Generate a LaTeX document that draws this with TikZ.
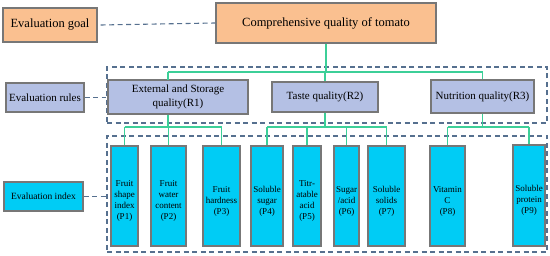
\documentclass[tikz,border=0pt]{standalone}
\usepackage{fontspec}
\setmainfont{Liberation Serif}
\newfontfamily\tnr{Liberation Serif}
\definecolor{goalfill}{HTML}{FAC090}
\definecolor{rulefill}{HTML}{B4C0E4}
\definecolor{idxfill}{HTML}{00CCF5}
\definecolor{boxline}{HTML}{777777}
\definecolor{conn}{HTML}{3CCF98}
\definecolor{dashc}{HTML}{56708F}
\begin{document}
\begin{tikzpicture}[x=1pt,y=-1pt,
  base/.style={draw=boxline,line width=1.2pt,inner sep=0pt,align=center},
  goalbox/.style={base,fill=goalfill,font=\tnr\fontsize{12.5}{14}\selectfont},
  rulebox/.style={base,fill=rulefill,font=\tnr\fontsize{11}{14}\selectfont},
  idxlabel/.style={base,fill=idxfill,font=\tnr\fontsize{9.5}{11}\selectfont},
  pbox/.style={base,fill=idxfill},
  frame/.style={draw=dashc,line width=1.1pt,dash pattern=on 5pt off 3.5pt,inner sep=0pt},
  dconn/.style={draw=dashc,line width=1.1pt,dash pattern=on 5pt off 3.5pt},
  gconn/.style={draw=conn,line width=1.1pt},
  plab/.style={label={[font=\tnr\fontsize{9}{11}\selectfont,align=center,yshift=-5pt]center:#1}}]
\useasboundingbox (0,0) rectangle (550,256);
% frames
\node[frame,minimum width=440pt,minimum height=56pt] (rframe) at (327,95) {};
\node[frame,minimum width=440pt,minimum height=116pt] (iframe) at (327,194) {};
% goal level
\node[goalbox,minimum width=94pt,minimum height=34pt] (goal) at (50,25) {Evaluation goal};
\node[goalbox,minimum width=220pt,minimum height=40pt] (comp) at (326,23) {Comprehensive quality of tomato};
% rules level
\node[rulebox,minimum width=78pt,minimum height=29pt] (rules) at (45,97.5) {Evaluation rules};
\node[rulebox,minimum width=140pt,minimum height=34pt] (r1) at (178,97) {External and Storage\\quality(R1)};
\node[rulebox,minimum width=106pt,minimum height=30pt] (r2) at (325,97) {Taste quality(R2)};
\node[rulebox,minimum width=103pt,minimum height=33pt] (r3) at (482.5,96.5) {Nutrition quality(R3)};
% index level
\node[idxlabel,minimum width=79pt,minimum height=29pt] (index) at (43.5,196.5) {Evaluation index};
\node[pbox,minimum width=27pt,minimum height=100pt,plab={Fruit\\shape\\index\\(P1)}] (p1) at (124.5,196) {};
\node[pbox,minimum width=35pt,minimum height=100pt,plab={Fruit\\water\\content\\(P2)}] (p2) at (168.5,196) {};
\node[pbox,minimum width=37pt,minimum height=100pt,plab={Fruit\\hardness\\(P3)}] (p3) at (221.5,196) {};
\node[pbox,minimum width=32pt,minimum height=100pt,plab={Soluble\\sugar\\(P4)}] (p4) at (267,196) {};
\node[pbox,minimum width=28pt,minimum height=100pt,plab={Titr-\\atable\\acid\\(P5)}] (p5) at (307,196) {};
\node[pbox,minimum width=25pt,minimum height=100pt,plab={Sugar\\/acid\\(P6)}] (p6) at (346.5,196) {};
\node[pbox,minimum width=37pt,minimum height=100pt,plab={Soluble\\solids\\(P7)}] (p7) at (386.5,196) {};
\node[pbox,minimum width=35pt,minimum height=100pt,plab={Vitamin\\C\\(P8)}] (p8) at (447.5,196) {};
\node[pbox,minimum width=32pt,minimum height=101pt,plab={Soluble\\protein\\(P9)}] (p9) at (529,195.5) {};
% dashed links
\draw[dconn] (goal.east) ++(3pt,0) -- (comp.west);
\draw[dconn] (rules.east) -- (rules.east -| rframe.west);
\draw[dconn] (index.east) -- (index.east -| iframe.west);
% green tree: goal -> rules
\coordinate (b1) at (326,72);
\coordinate (r1t) at (168,80);
\draw[gconn] (comp.south) -- (b1);
\draw[gconn] (r1t |- b1) -- (r3.north |- b1);
\draw[gconn] (r1t |- b1) -- (r1t);
\draw[gconn] (r2.north |- b1) -- (r2.north);
\draw[gconn] (r3.north |- b1) -- (r3.north);
% rules -> index
\coordinate (b2) at (0,127);
\draw[gconn] (r1.south -| r1t) -- (r1t |- b2);
\draw[gconn] (p1.north |- b2) -- (p3.north |- b2);
\foreach \p in {p1,p2,p3} \draw[gconn] (\p.north |- b2) -- (\p.north);
\draw[gconn] (r2.south) -- (r2.south |- b2);
\draw[gconn] (p4.north |- b2) -- (p7.north |- b2);
\foreach \p in {p4,p5,p6,p7} \draw[gconn] (\p.north |- b2) -- (\p.north);
\draw[gconn] (r3.south) -- (r3.south |- b2);
\draw[gconn] (p8.north |- b2) -- (p9.north |- b2);
\foreach \p in {p8,p9} \draw[gconn] (\p.north |- b2) -- (\p.north);
\end{tikzpicture}
\end{document}
